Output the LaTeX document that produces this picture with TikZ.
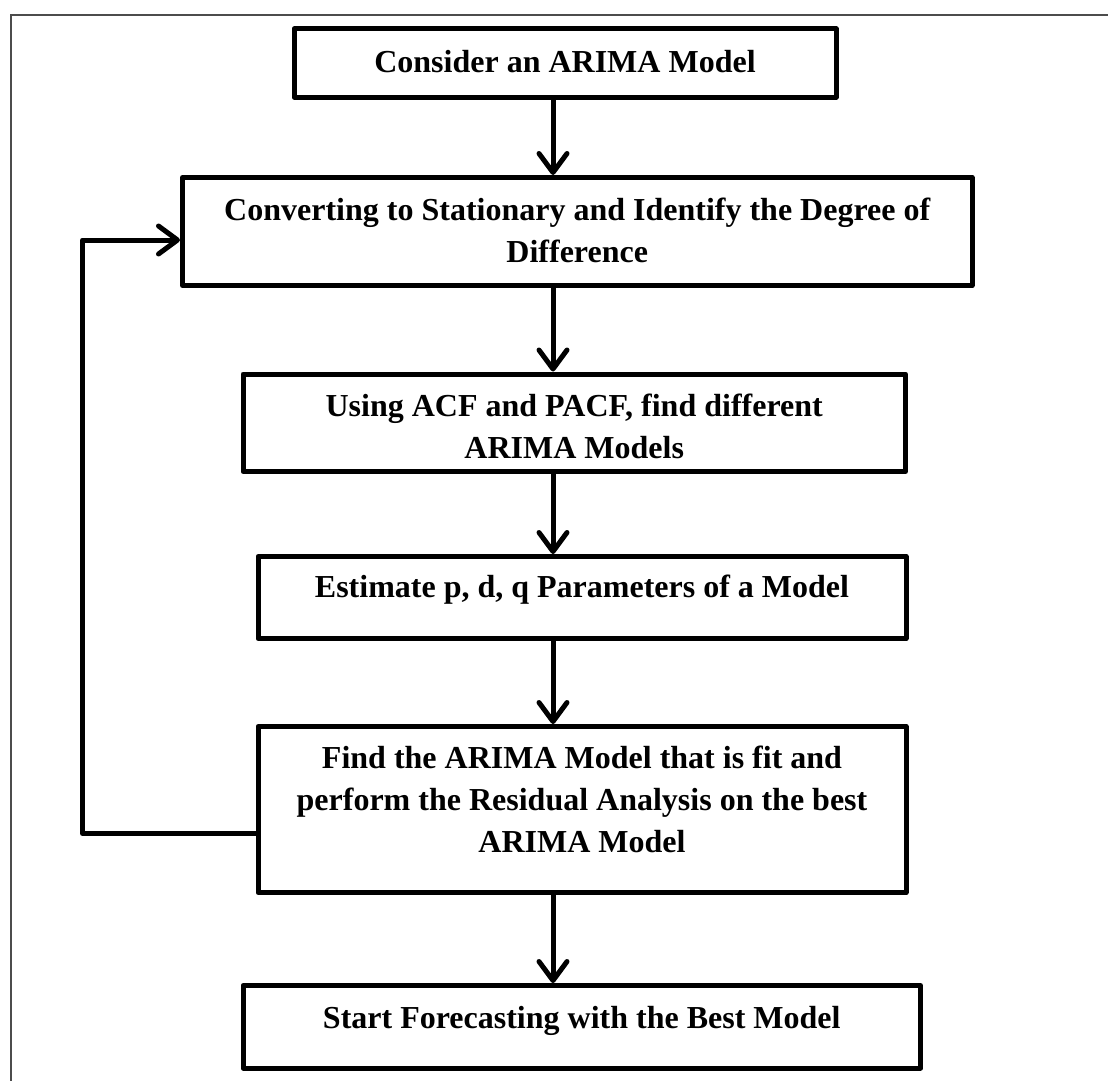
\documentclass[tikz,border=0pt]{standalone}
\usepackage{fontspec}
\setmainfont{Liberation Serif}
\usetikzlibrary{arrows.meta}
\begin{document}
\begin{tikzpicture}[x=1pt,y=-1pt,
  box/.style={draw=black, line width=5pt, line join=round, rectangle, inner sep=0pt},
  lbl/.style={font=\bfseries\fontsize{32}{42}\selectfont, align=center, anchor=base, inner sep=0pt},
  flow/.style={draw=black, line width=5pt, line join=round, -{Straight Barb[length=19pt,width=28pt,round]}},
  frame/.style={draw=black!70, line width=1.5pt}]
\useasboundingbox (0,0) rectangle (1108,1081);
% outer frame (partly visible)
\coordinate (fTR) at (1108,15);
\coordinate (fTL) at (10.8,15);
\coordinate (fBL) at (10.8,1081);
\draw[frame] (fTR) -- (fTL) -- (fBL);
% boxes
\node[box, minimum width=542pt, minimum height=68pt] (b1) at (565,63) {};
\node[box, minimum width=789.5pt, minimum height=108pt] (b2) at (577.25,231.5) {};
\node[box, minimum width=662.5pt, minimum height=97.5pt] (b3) at (574.25,422.75) {};
\node[box, minimum width=648pt, minimum height=82pt] (b4) at (582,597.5) {};
\node[box, minimum width=648pt, minimum height=166pt] (b5) at (582,809.5) {};
\node[box, minimum width=677.5pt, minimum height=82.5pt] (b6) at (581.75,1026.75) {};
% labels (base anchor = baseline of the last line)
\node[lbl] (t1) at (565,72) {Consider an ARIMA Model};
\node[lbl] (t2) at (577.25,262) {Converting to Stationary and Identify the Degree of\\Difference};
\node[lbl] (t3) at (574.25,458) {Using ACF and PACF, find different\\ARIMA Models};
\node[lbl] (t4) at (582,597) {Estimate p, d, q Parameters of a Model};
\node[lbl] (t5) at (582,852) {Find the ARIMA Model that is fit and\\perform the Residual Analysis on the best\\ARIMA Model};
\node[lbl] (t6) at (581.75,1028) {Start Forecasting with the Best Model};
% arrows
\coordinate (ax) at (553,0);
\draw[flow] (ax |- b1.south) -- (ax |- b2.north);
\draw[flow] (ax |- b2.south) -- (ax |- b3.north);
\draw[flow] (ax |- b3.south) -- (ax |- b4.north);
\draw[flow] (ax |- b4.south) -- (ax |- b5.north);
\draw[flow] (ax |- b5.south) -- (ax |- b6.north);
% feedback
\coordinate (fbLow) at (82.5,833.5);
\coordinate (fbHigh) at (82.5,240);
\draw[flow] (b5.west |- fbLow) -- (fbLow) -- (fbHigh) -- (b2.west |- fbHigh);
\end{tikzpicture}
\end{document}
